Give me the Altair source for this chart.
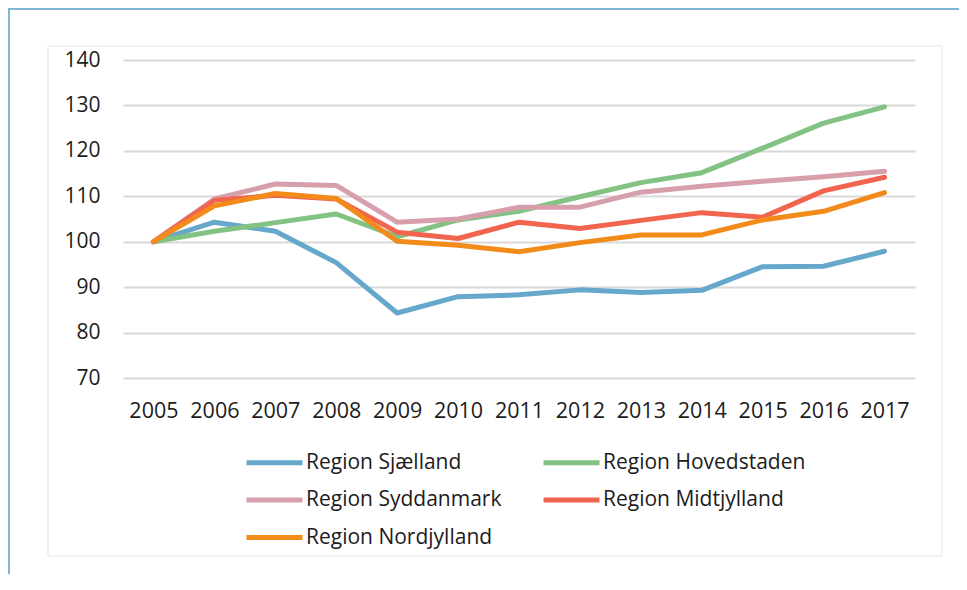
import altair as alt
import pandas as pd

years = [str(y) for y in range(2005, 2018)]
series_names = ["Region Sjælland", "Region Hovedstaden", "Region Syddanmark",
                "Region Midtjylland", "Region Nordjylland"]
sjaelland = [100, 104.3, 102.3, 95.4, 84.3, 87.9, 88.3, 89.4, 88.8, 89.3, 94.5, 94.6, 97.9]
hovedstaden = [100, 102.3, 104.2, 106.1, 101.1, 104.8, 106.7, 109.9, 113.0, 115.2, 120.6, 126.1, 129.7]
syddanmark = [100, 109.4, 112.7, 112.4, 104.3, 105.0, 107.6, 107.6, 110.9, 112.2, 113.3, 114.3, 115.5]
midtjylland = [100, 109.1, 110.2, 109.4, 102.1, 100.7, 104.3, 102.9, 104.7, 106.4, 105.4, 111.2, 114.2]
nordjylland = [100, 107.9, 110.6, 109.5, 100.1, 99.2, 97.8, 99.8, 101.5, 101.5, 104.8, 106.7, 110.8]
colors = ["#65a8cb", "#82c282", "#d79fac", "#f1654f", "#f28b1a"]
y_ticks = [70, 80, 90, 100, 110, 120, 130, 140]

# legend fills column by column: order so that rows read as in the reference
legend_order = [series_names[0], series_names[2], series_names[4],
                series_names[1], series_names[3]]
legend_colors = [colors[0], colors[2], colors[4], colors[1], colors[3]]

all_series = [sjaelland, hovedstaden, syddanmark, midtjylland, nordjylland]
rows = []
for i, (name, vals) in enumerate(zip(series_names, all_series)):
    for yr, v in zip(years, vals):
        rows.append({"year": yr, "value": v, "region": name, "order": i})
df = pd.DataFrame(rows)

FONT = "Open Sans"
TXT = "#1c1c1c"

lines = alt.Chart(df).mark_line(strokeWidth=5, strokeCap="round", strokeJoin="round").encode(
    x=alt.X("year:O", sort=years, scale=alt.Scale(type="point", padding=0.5),
            axis=alt.Axis(title=None, labelAngle=0, ticks=False, domain=False, grid=False,
                          labelFont=FONT, labelFontSize=21.5, labelColor=TXT, labelPadding=22)),
    y=alt.Y("value:Q", scale=alt.Scale(domain=[70, 140], nice=False, zero=False),
            axis=alt.Axis(title=None, values=y_ticks, ticks=False, domain=False, grid=True,
                          gridColor="#d9d9d9", gridWidth=2,
                          labelFont=FONT, labelFontSize=21, labelColor=TXT, labelPadding=23)),
    color=alt.Color("region:N",
                    scale=alt.Scale(domain=legend_order, range=legend_colors),
                    legend=alt.Legend(title=None, orient="none", legendX=135, legendY=386,
                                      columns=2, symbolType="M-2,0L2,0", symbolSize=784,
                                      symbolStrokeWidth=5, labelFont=FONT, labelFontSize=21,
                                      labelColor=TXT, labelOffset=15, rowPadding=10.5,
                                      columnPadding=31, labelLimit=400)),
    order=alt.Order("order:Q"),
    detail="region:N",
)

frame_top = alt.Chart(df).mark_rule(color="#7fb6d6", strokeWidth=2).encode(
    x=alt.value(-115), x2=alt.value(836), y=alt.value(-51))
frame_left = alt.Chart(df).mark_rule(color="#7fb6d6", strokeWidth=2).encode(
    x=alt.value(-114), y=alt.value(-52), y2=alt.value(520))
inner_box = alt.Chart(df).mark_rect(fill="transparent", stroke="#f0f0f0", strokeWidth=1).encode(
    x=alt.value(-75), x2=alt.value(819), y=alt.value(-14), y2=alt.value(496))

chart = alt.layer(inner_box, frame_top, frame_left, lines).properties(
    width=792, height=318,
    background="white",
    autosize=alt.AutoSizeParams(type="none"),
    padding={"left": 115, "top": 52, "right": 44, "bottom": 196},
).configure_view(strokeWidth=0, stroke="transparent")

chart.save("out.html", embed_options={"renderer": "svg", "actions": False})
